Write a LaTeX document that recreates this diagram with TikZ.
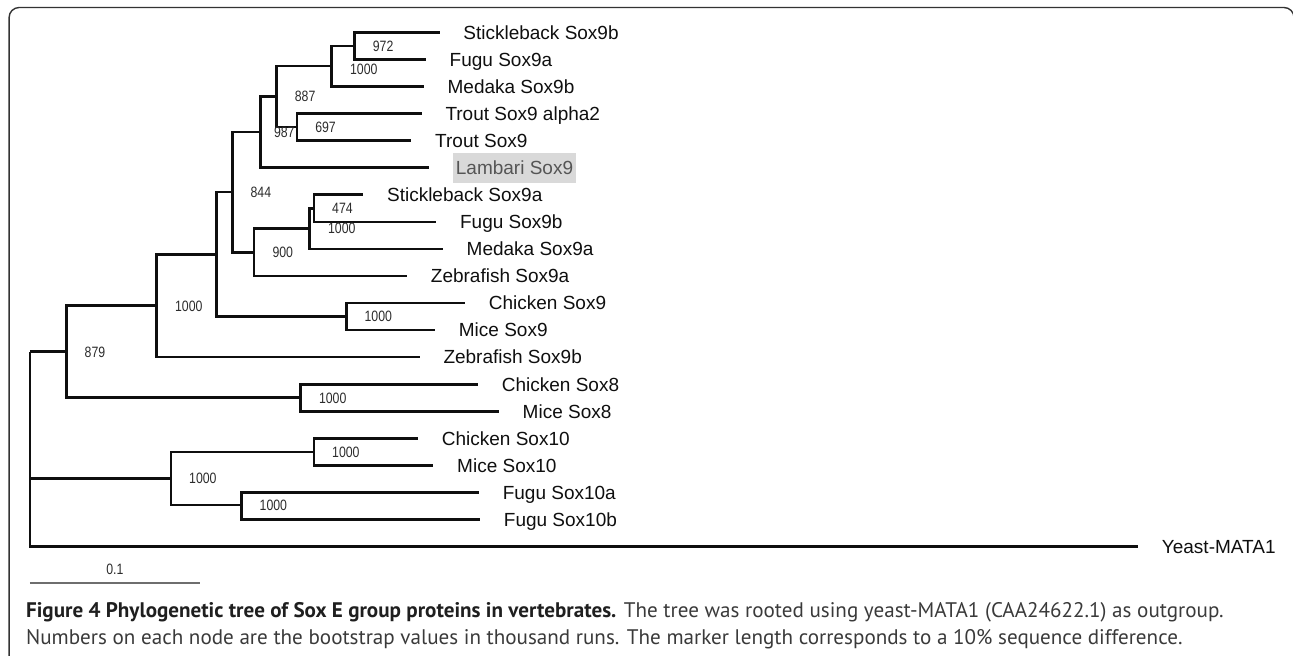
\documentclass[tikz,border=0pt]{standalone}
\usepackage{fontspec}
\setmainfont{Liberation Sans}
\newfontfamily\capfont{PT Sans}
\newfontfamily\bootfont[FakeStretch=0.82]{Liberation Sans}
\usetikzlibrary{positioning}

\definecolor{treeline}{HTML}{0F0F0F}
\definecolor{bootgray}{HTML}{2C2C2C}
\definecolor{boxgray}{HTML}{D9D9D9}
\definecolor{lambgray}{HTML}{555555}
\definecolor{bargray}{HTML}{6E6E6E}
\definecolor{capgray}{HTML}{3A3A3A}

\begin{document}
\begin{tikzpicture}[x=0.5pt,y=-0.5pt,
    branch/.style={line width=1.3pt,draw=treeline},
    elbow/.style={to path={|- (\tikztotarget)}},
    leaf/.style={font=\fontsize{9.5}{11}\selectfont,text=treeline,inner sep=0pt,
      text height=6.8pt,text depth=0pt},
    hilite/.style={leaf,fill=boxgray,text=lambgray,inner xsep=1.5pt,inner ysep=4.1pt},
    boot/.style={font=\bootfont\fontsize{7.5}{9}\selectfont,text=bootgray,inner sep=0pt,
      text height=5.4pt,text depth=0pt},
    capline/.style={font=\capfont\fontsize{10.55}{12}\selectfont,text=capgray,inner sep=0pt,anchor=base west}]
  \useasboundingbox (0,0) rectangle (1293,655);
  \draw[draw=black!80,line width=0.7pt,rounded corners=5pt] (9.1,7.5) rectangle (1294,670);

  % leaves
  \foreach \n/\xe/\txt/\sty [count=\i from 0] in {
      SBb/439.5/Stickleback Sox9b/leaf, FUa/425.8/Fugu Sox9a/leaf,
      MEb/423.7/Medaka Sox9b/leaf, TRa/421.6/Trout Sox9 alpha2/leaf,
      TR/411.3/Trout Sox9/leaf, LA/429/Lambari Sox9/hilite,
      SBa/363.2/Stickleback Sox9a/leaf, FUb/436.2/Fugu Sox9b/leaf,
      MEa/442.8/Medaka Sox9a/leaf, ZEa/407/Zebrafish Sox9a/leaf,
      CH9/465/Chicken Sox9/leaf, MI9/435/Mice Sox9/leaf,
      ZEb/419.6/Zebrafish Sox9b/leaf, CH8/478/Chicken Sox8/leaf,
      MI8/498.8/Mice Sox8/leaf, CH10/418/Chicken Sox10/leaf,
      MI10/433.3/Mice Sox10/leaf, FU10a/478.9/Fugu Sox10a/leaf,
      FU10b/480/Fugu Sox10b/leaf, YE/1138/Yeast-MATA1/leaf}
  {
    \coordinate (t\n) at (\xe,{32.3+27.07*\i});
    \node[\sty,right=11.75pt of t\n] (l\n) {\txt};
  }

  % inner nodes
  \coordinate (nA) at (354.5,45.84);
  \coordinate (nB) at (331.7,66.14);
  \coordinate (nC) at (296.9,127.05);
  \coordinate (nD) at (276.5,96.59);
  \coordinate (nE) at (260.4,132.12);
  \coordinate (nF) at (313.8,208.26);
  \coordinate (nG) at (309.7,228.56);
  \coordinate (nH) at (254.1,252.24);
  \coordinate (nI) at (232.2,192.18);
  \coordinate (nJ) at (346.2,316.54);
  \coordinate (nK) at (216.4,254.36);
  \coordinate (nL) at (156.7,305.75);
  \coordinate (nM) at (300.6,397.75);
  \coordinate (nN) at (66.3,351.75);
  \coordinate (nO) at (313.8,451.89);
  \coordinate (nP) at (241.3,505.03);
  \coordinate (nQ) at (170.8,478.46);
  \coordinate (nR) at (29.9,351.75);

  \path[branch]
    (nA) edge[elbow] (tSBb) edge[elbow] (tFUa)
    (nB) edge[elbow] (nA) edge[elbow] (tMEb)
    (nC) edge[elbow] (tTRa) edge[elbow] (tTR)
    (nD) edge[elbow] (nB) edge[elbow] (nC)
    (nE) edge[elbow] (nD) edge[elbow] (tLA)
    (nF) edge[elbow] (tSBa) edge[elbow] (tFUb)
    (nG) edge[elbow] (nF) edge[elbow] (tMEa)
    (nH) edge[elbow] (nG) edge[elbow] (tZEa)
    (nI) edge[elbow] (nE) edge[elbow] (nH)
    (nJ) edge[elbow] (tCH9) edge[elbow] (tMI9)
    (nK) edge[elbow] (nI) edge[elbow] (nJ)
    (nL) edge[elbow] (nK) edge[elbow] (tZEb)
    (nM) edge[elbow] (tCH8) edge[elbow] (tMI8)
    (nN) edge[elbow] (nL) edge[elbow] (nM)
    (nO) edge[elbow] (tCH10) edge[elbow] (tMI10)
    (nP) edge[elbow] (tFU10a) edge[elbow] (tFU10b)
    (nQ) edge[elbow] (nO) edge[elbow] (nP)
    (nR) edge[elbow] (nN) edge[elbow] (nQ) edge[elbow] (tYE);

  % bootstrap values
  \node[boot,right=9pt of nA] (bA) {972};
  \node[boot,right=9pt of nB,yshift=-1.5pt] (bB) {1000};
  \node[boot,right=9pt of nC] (bC) {697};
  \node[boot,right=9pt of nD] (bD) {887};
  \node[boot,right=6.6pt of nE] (bE) {987};
  \node[boot,right=9pt of nF] (bF) {474};
  \node[boot,right=9pt of nG] (bG) {1000};
  \node[boot,right=9pt of nH] (bH) {900};
  \node[boot,right=9pt of nI] (bI) {844};
  \node[boot,right=9pt of nJ] (bJ) {1000};
  \node[boot,right=9pt of nL] (bL) {1000};
  \node[boot,right=9pt of nM] (bM) {1000};
  \node[boot,right=9pt of nN] (bN) {879};
  \node[boot,right=9pt of nO] (bO) {1000};
  \node[boot,right=9pt of nP] (bP) {1000};
  \node[boot,right=9pt of nQ] (bQ) {1000};

  % scale bar
  \coordinate (s0) at (29.9,582.5);
  \coordinate (s1) at (199.8,582.5);
  \draw[draw=bargray,line width=1pt] (s0) -- node[boot,above=3.3pt] (sLab) {0.1} (s1);

  % caption
  \node[capline] (cap1) at (25.7,617.5) {{\bfseries\color{black!88}Figure 4 Phylogenetic tree of Sox E group proteins in vertebrates.} The tree was rooted using yeast-MATA1 (CAA24622.1) as outgroup.};
  \node[capline] (cap2) at (25.7,644.5) {Numbers on each node are the bootstrap values in thousand runs. The marker length corresponds to a 10\% sequence difference.};
\end{tikzpicture}
\end{document}
